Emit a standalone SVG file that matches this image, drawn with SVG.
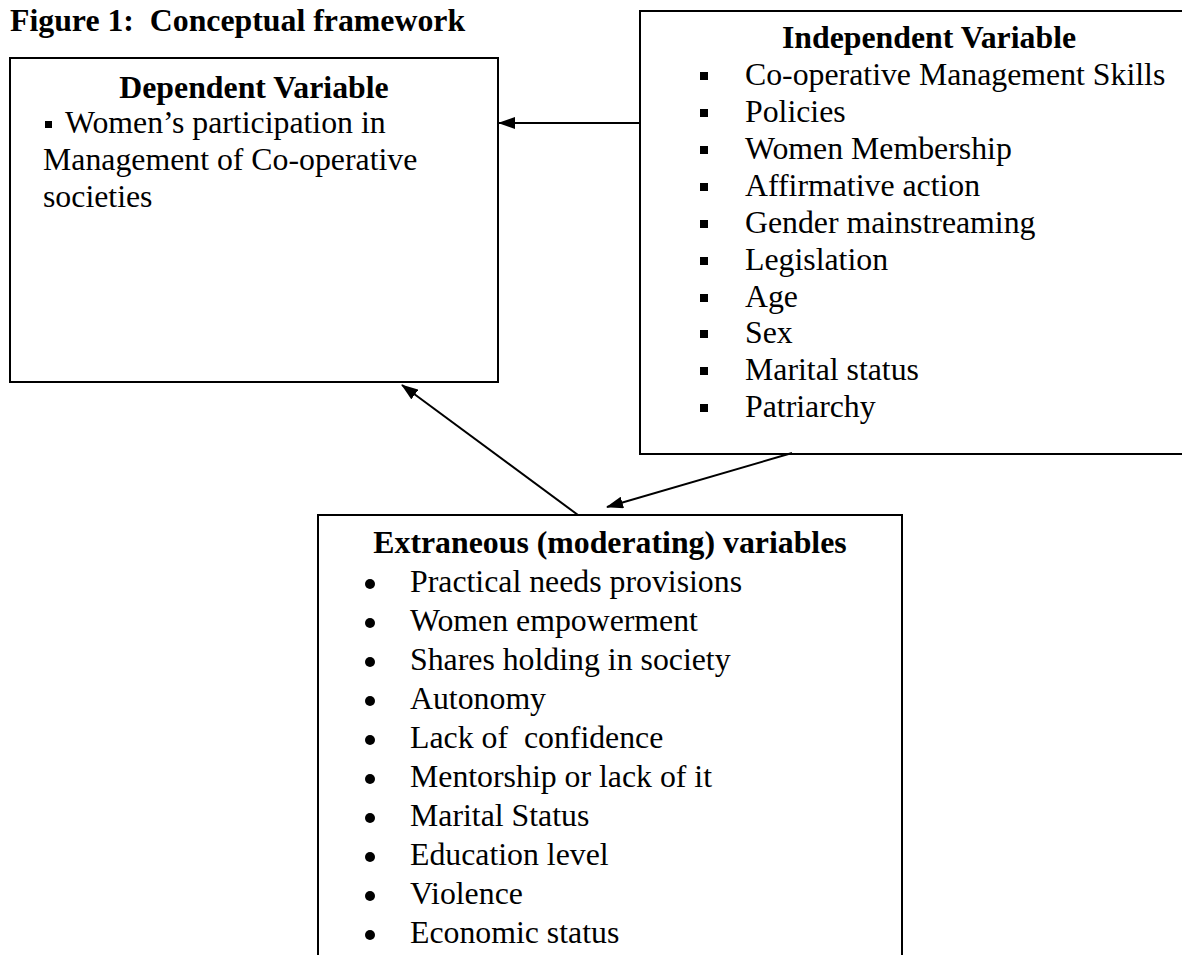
<svg xmlns="http://www.w3.org/2000/svg" width="1182" height="955" viewBox="0 0 1182 955">
<defs>
<marker id="ah" markerUnits="userSpaceOnUse" markerWidth="17" markerHeight="12" viewBox="0 0 17 12" refX="16" refY="6" orient="auto">
<path d="M0,0 L17,6 L0,12 z" fill="#000"/>
</marker>
<style>
text{font-family:"Liberation Serif","Times New Roman",serif;font-size:31.8px;fill:#000;white-space:pre}
.b{font-weight:bold}
.box{fill:#fff;stroke:#000;stroke-width:2}
.sq{fill:#000}
.con{stroke:#000;stroke-width:2;fill:none;marker-end:url(#ah)}
</style>
</defs>
<rect width="1182" height="955" fill="#fff"/>
<text id="title" class="b" x="10" y="31" xml:space="preserve">Figure 1:  Conceptual framework</text>
<g id="dependent">
<rect class="box" x="10" y="58" width="488" height="324"/>
<text class="b" x="254" y="98" text-anchor="middle">Dependent Variable</text>
<rect class="sq" x="45" y="121" width="7" height="7"/>
<text x="65" y="133">Women’s participation in</text>
<text x="43" y="170">Management of Co-operative</text>
<text x="43" y="207">societies</text>
</g>
<g id="independent">
<rect class="box" x="640" y="11" width="600" height="443"/>
<text class="b" x="929" y="48" text-anchor="middle">Independent Variable</text>
<g class="sq">
<rect x="700" y="72" width="8" height="8"/>
<rect x="700" y="109" width="8" height="8"/>
<rect x="700" y="146" width="8" height="8"/>
<rect x="700" y="183" width="8" height="8"/>
<rect x="700" y="220" width="8" height="8"/>
<rect x="700" y="257" width="8" height="8"/>
<rect x="700" y="294" width="8" height="8"/>
<rect x="700" y="330" width="8" height="8"/>
<rect x="700" y="367" width="8" height="8"/>
<rect x="700" y="404" width="8" height="8"/>
</g>
<text x="745" y="85">Co-operative Management Skills</text>
<text x="745" y="122">Policies</text>
<text x="745" y="159">Women Membership</text>
<text x="745" y="196">Affirmative action</text>
<text x="745" y="233">Gender mainstreaming</text>
<text x="745" y="270">Legislation</text>
<text x="745" y="307">Age</text>
<text x="745" y="343">Sex</text>
<text x="745" y="380">Marital status</text>
<text x="745" y="417">Patriarchy</text>
</g>
<g id="extraneous">
<rect class="box" x="318" y="515" width="584" height="460"/>
<text class="b" x="610" y="553" text-anchor="middle">Extraneous (moderating) variables</text>
<g class="sq">
<circle cx="370" cy="584" r="5"/>
<circle cx="370" cy="623" r="5"/>
<circle cx="370" cy="662" r="5"/>
<circle cx="370" cy="701" r="5"/>
<circle cx="370" cy="740" r="5"/>
<circle cx="370" cy="779" r="5"/>
<circle cx="370" cy="818" r="5"/>
<circle cx="370" cy="857" r="5"/>
<circle cx="370" cy="896" r="5"/>
<circle cx="370" cy="935" r="5"/>
</g>
<text x="410" y="592">Practical needs provisions</text>
<text x="410" y="631">Women empowerment</text>
<text x="410" y="670">Shares holding in society</text>
<text x="410" y="709">Autonomy</text>
<text x="410" y="748" xml:space="preserve">Lack of  confidence</text>
<text x="410" y="787">Mentorship or lack of it</text>
<text x="410" y="826">Marital Status</text>
<text x="410" y="865">Education level</text>
<text x="410" y="904">Violence</text>
<text x="410" y="943">Economic status</text>
</g>
<g id="connectors">
<line class="con" x1="640" y1="123" x2="499" y2="123"/>
<line class="con" x1="578" y1="515" x2="402" y2="385"/>
<line class="con" x1="792" y1="453" x2="607" y2="507"/>
</g>
</svg>
